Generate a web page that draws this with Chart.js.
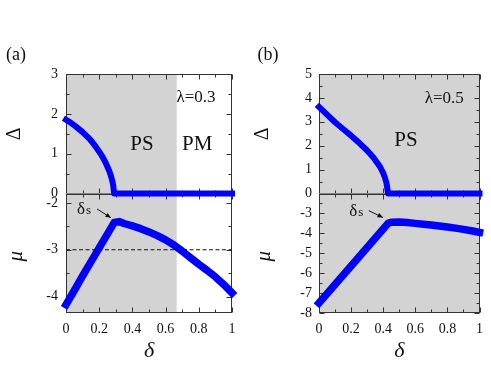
<!DOCTYPE html>
<html>
<head>
<meta charset="utf-8">
<script src="https://cdn.jsdelivr.net/npm/chart.js@4.4.1/dist/chart.umd.min.js"></script>
<style>
html, body { margin: 0; padding: 0; background: #fff; overflow: hidden; }
#wrap { position: relative; width: 491px; height: 365px; }
canvas { position: absolute; top: 0; }
</style>
</head>
<body>
<div id="wrap">
	<canvas id="chartA" width="245" height="365" style="left:0px"></canvas>
	<canvas id="chartB" width="246" height="365" style="left:245px"></canvas>
</div>
<script>
// ---- panel (a), lambda = 0.3 ----
var deltaGapA = [0, 0.02, 0.04, 0.06, 0.08, 0.10, 0.12, 0.14, 0.16, 0.18, 0.20, 0.22, 0.24, 0.26, 0.27, 0.28, 0.285, 0.29, 0.4, 0.5, 0.6, 0.7, 0.8, 0.9, 1.0];
var gapA      = [1.85, 1.80, 1.74, 1.68, 1.61, 1.54, 1.46, 1.38, 1.28, 1.17, 1.05, 0.92, 0.76, 0.57, 0.45, 0.30, 0.18, 0, 0, 0, 0, 0, 0, 0, 0];
var deltaMuA  = [0, 0.05, 0.10, 0.15, 0.20, 0.25, 0.29, 0.32, 0.35, 0.40, 0.45, 0.50, 0.55, 0.60, 0.65, 0.70, 0.75, 0.80, 0.85, 0.90, 0.95, 1.0];
var muA       = [-4.17, -3.87, -3.56, -3.26, -2.96, -2.66, -2.42, -2.40, -2.44, -2.49, -2.55, -2.62, -2.70, -2.79, -2.90, -3.03, -3.17, -3.31, -3.44, -3.58, -3.74, -3.92];
var refLineA  = [-3, -3];   // dashed line, at delta = 0 and 1
var psEdgeA   = 0.667;      // PS / PM boundary

// ---- panel (b), lambda = 0.5 ----
var deltaGapB = [0, 0.05, 0.10, 0.15, 0.20, 0.25, 0.30, 0.34, 0.38, 0.40, 0.41, 0.42, 0.425, 0.43, 0.5, 0.6, 0.7, 0.8, 0.9, 1.0];
var gapB      = [3.62, 3.30, 2.98, 2.70, 2.42, 2.12, 1.80, 1.50, 1.12, 0.85, 0.68, 0.45, 0.25, 0, 0, 0, 0, 0, 0, 0];
var deltaMuB  = [0, 0.10, 0.20, 0.30, 0.40, 0.43, 0.45, 0.50, 0.55, 0.60, 0.65, 0.70, 0.75, 0.80, 0.85, 0.90, 0.95, 1.0];
var muB       = [-7.50, -6.57, -5.64, -4.71, -3.78, -3.50, -3.44, -3.43, -3.46, -3.50, -3.54, -3.58, -3.63, -3.68, -3.74, -3.80, -3.87, -3.95];
var psEdgeB   = 1.0;

var xTicks = ['0', '0.2', '0.4', '0.6', '0.8', '1'];

var SERIF = "'Liberation Serif', 'Times New Roman', serif";
var BLUE = '#0000ff';

function pts(xs, ys) {
	return xs.map(function (v, i) { return { x: v, y: ys[i] }; });
}

function line(ctx, x0, y0, x1, y1) {
	ctx.beginPath(); ctx.moveTo(x0, y0); ctx.lineTo(x1, y1); ctx.stroke();
}

// frame with inward ticks, grey phase area, text labels
Chart.register({
	id: 'panelDecor',
	beforeDatasetsDraw: function (chart, args, o) {
		var ctx = chart.ctx, x = chart.scales.x;
		ctx.save();
		['yTop', 'yBot'].forEach(function (id) {
			var y = chart.scales[id];
			var t = y.top, b = y.bottom, l = x.left, r = x.right;
			ctx.fillStyle = '#d3d3d3';
			ctx.fillRect(l, t, x.getPixelForValue(o.shadeTo) - l, b - t);

			ctx.strokeStyle = '#333';
			ctx.lineWidth = 1;
			var L = Math.round(l) + 0.5, R = Math.round(r) - 0.5, T = Math.round(t) + 0.5, B = Math.round(b) - 0.5;
			ctx.strokeRect(L, T, R - L, B - T);
			// x ticks
			for (var i = 0; i <= 10; i++) {
				var px = Math.round(x.getPixelForValue(i / 10)) + 0.5;
				var len = i % 2 === 0 ? 5 : 3;
				line(ctx, px, T, px, T + len);
				line(ctx, px, B, px, B - len);
			}
			// y ticks
			for (var v = Math.ceil(y.min * 2) / 2; v <= y.max + 1e-6; v += 0.5) {
				var py = Math.round(y.getPixelForValue(v)) + 0.5;
				var ln = Math.abs(v - Math.round(v)) < 1e-6 ? 5 : 3;
				line(ctx, L, py, L + ln, py);
				line(ctx, R, py, R - ln, py);
			}
		});
		ctx.restore();
	},
	afterDraw: function (chart, args, o) {
		var ctx = chart.ctx, x = chart.scales.x, yT = chart.scales.yTop, yB = chart.scales.yBot;
		ctx.save();
		ctx.fillStyle = '#111';
		ctx.textAlign = 'center';
		ctx.textBaseline = 'middle';

		ctx.font = '18px ' + SERIF;
		ctx.fillText(o.tag, o.tagX, 55);

		ctx.font = '21px ' + SERIF;
		o.phases.forEach(function (p) {
			ctx.fillText(p.text, x.getPixelForValue(p.x), yT.getPixelForValue(p.y));
		});
		ctx.font = '17px ' + SERIF;
		ctx.fillText(o.lambda.text, x.getPixelForValue(o.lambda.x), yT.getPixelForValue(o.lambda.y));

		// axis titles
		ctx.font = 'italic 22px ' + SERIF;
		ctx.fillText('\u03b4', (x.left + x.right) / 2, 351);

		ctx.save();
		ctx.translate(o.titleX, (yT.top + yT.bottom) / 2);
		ctx.rotate(-Math.PI / 2);
		ctx.font = '20px ' + SERIF;
		ctx.fillText('\u0394', 0, 0);
		ctx.restore();

		ctx.save();
		ctx.translate(o.titleX + 1, (yB.top + yB.bottom) / 2 + 3);
		ctx.rotate(-Math.PI / 2);
		ctx.font = 'italic 21px ' + SERIF;
		ctx.fillText('\u03bc', 0, 0);
		ctx.restore();

		// delta_s note with arrow
		var sx = x.getPixelForValue(o.ds.x), sy = yB.getPixelForValue(o.ds.y);
		ctx.textAlign = 'left';
		ctx.font = '17px ' + SERIF;
		ctx.fillText('\u03b4', sx - 8, sy);
		ctx.font = '13px ' + SERIF;
		ctx.fillText('s', sx + 1, sy + 1);

		var ax0 = x.getPixelForValue(o.ds.ax0), ay0 = yB.getPixelForValue(o.ds.ay0);
		var ax1 = x.getPixelForValue(o.ds.ax1), ay1 = yB.getPixelForValue(o.ds.ay1);
		ctx.strokeStyle = '#111';
		ctx.lineWidth = 1;
		line(ctx, ax0, ay0, ax1, ay1);
		var ang = Math.atan2(ay1 - ay0, ax1 - ax0);
		ctx.beginPath();
		ctx.moveTo(ax1, ay1);
		ctx.lineTo(ax1 - 6 * Math.cos(ang - 0.4), ay1 - 6 * Math.sin(ang - 0.4));
		ctx.lineTo(ax1 - 6 * Math.cos(ang + 0.4), ay1 - 6 * Math.sin(ang + 0.4));
		ctx.closePath();
		ctx.fill();
		ctx.restore();
	}
});

function makePanel(id, cfg) {
	var tickFont = { family: SERIF, size: 14 };
	return new Chart(document.getElementById(id), {
		type: 'line',
		data: { datasets: cfg.datasets },
		options: {
			responsive: false,
			animation: false,
			layout: { padding: { left: 0, top: 74, right: cfg.padRight, bottom: 0 } },
			plugins: {
				legend: { display: false },
				tooltip: { enabled: false },
				panelDecor: cfg.decor
			},
			scales: {
				x: {
					type: 'linear', min: 0, max: 1,
					grid: { display: false, drawTicks: false },
					border: { display: false },
					ticks: {
						stepSize: 0.2, padding: 8, color: '#111', font: tickFont,
						callback: function (v) { return xTicks[Math.round(v * 5)]; }
					},
					afterFit: function (s) { s.height = 52; }
				},
				// the stack places the later left axis on top
				yBot: {
					type: 'linear', position: 'left', stack: 'col', stackWeight: 1,
					min: cfg.botRange[0], max: cfg.botRange[1],
					grid: { display: false, drawTicks: false },
					border: { display: false },
					ticks: {
						stepSize: 1, includeBounds: false, padding: cfg.labelPad, color: '#111', font: tickFont, autoSkip: false,
						callback: function (v) { return cfg.hideBotTop && v === cfg.botRange[1] ? '' : String(v); }
					},
					afterFit: function (s) { s.width = cfg.axisW; }
				},
				yTop: {
					type: 'linear', position: 'left', stack: 'col', stackWeight: 1,
					min: cfg.topRange[0], max: cfg.topRange[1],
					grid: { display: false, drawTicks: false },
					border: { display: false },
					ticks: { stepSize: 1, padding: cfg.labelPad, color: '#111', font: tickFont, autoSkip: false },
					afterFit: function (s) { s.width = cfg.axisW; }
				}
			}
		}
	});
}

function blueSet(xs, ys, axis, w) {
	return {
		data: pts(xs, ys), yAxisID: axis, borderColor: BLUE, borderWidth: w,
		pointRadius: 0, tension: 0, fill: false, clip: 6,
		borderCapStyle: 'square', borderJoinStyle: 'round'
	};
}

makePanel('chartA', {
	padRight: 13, axisW: 66, labelPad: 8,
	topRange: [0, 3], botRange: [-4.35, -1.8], hideBotTop: false,
	datasets: [
		{
			data: pts([0, 1], refLineA), yAxisID: 'yBot', borderColor: '#111', borderWidth: 1.2,
			borderDash: [4, 2.5], pointRadius: 0, fill: false
		},
		blueSet(deltaGapA, gapA, 'yTop', 6),
		blueSet(deltaMuA, muA, 'yBot', 7.5)
	],
	decor: {
		shadeTo: psEdgeA, tag: '(a)', tagX: 16, titleX: 15,
		phases: [{ text: 'PS', x: 0.458, y: 1.22 }, { text: 'PM', x: 0.79, y: 1.22 }],
		lambda: { text: '\u03bb=0.3', x: 0.783, y: 2.42 },
		ds: { x: 0.114, y: -2.15, ax0: 0.187, ay0: -2.13, ax1: 0.271, ay1: -2.32 }
	}
});

makePanel('chartB', {
	padRight: 4, axisW: 74, labelPad: 7,
	topRange: [0, 5], botRange: [-8, -2], hideBotTop: true,
	datasets: [
		blueSet(deltaGapB, gapB, 'yTop', 6),
		blueSet(deltaMuB, muB, 'yBot', 7.5)
	],
	decor: {
		shadeTo: psEdgeB, tag: '(b)', tagX: 23, titleX: 18,
		phases: [{ text: 'PS', x: 0.542, y: 2.23 }],
		lambda: { text: '\u03bb=0.5', x: 0.78, y: 3.99 },
		ds: { x: 0.238, y: -2.91, ax0: 0.31, ay0: -2.86, ax1: 0.399, ay1: -3.21 }
	}
});
</script>
</body>
</html>
